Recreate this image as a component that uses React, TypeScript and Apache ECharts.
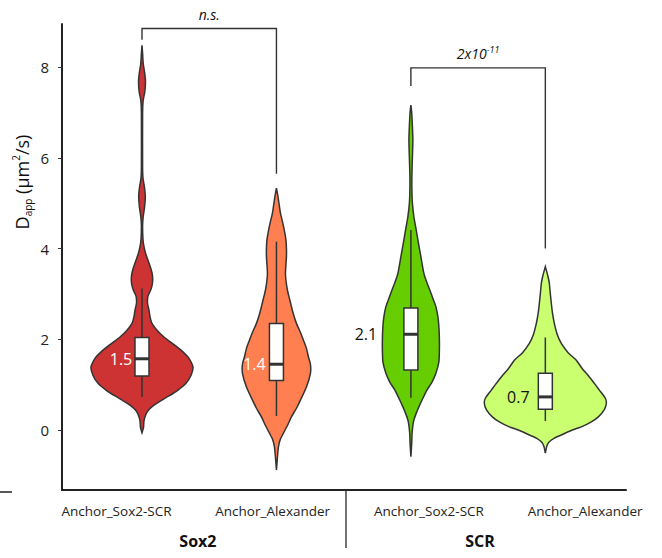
import React, { useEffect, useRef } from "react";
import * as echarts from "echarts";

// ---------- data ----------
const categories = ["Anchor_Sox2-SCR", "Anchor_Alexander", "Anchor_Sox2-SCR", "Anchor_Alexander"];
const groups = ["Sox2", "SCR"];
const yTicks = [0, 2, 4, 6, 8];
const medianLabels = ["1.5", "1.4", "2.1", "0.7"];

// box stats: [whiskerLow, q1, median, q3, whiskerHigh]
const boxSox2Anchor = [0.73, 1.19, 1.57, 2.04, 3.12];
const boxSox2Alexander = [0.31, 1.09, 1.45, 2.35, 4.15];
const boxScrAnchor = [0.71, 1.32, 2.11, 2.69, 4.41];
const boxScrAlexander = [0.2, 0.46, 0.73, 1.25, 2.04];

// violin profiles: [value, density half-width]
const violinSox2Anchor: [number, number][] = [
  [-0.06, 0], [0.05, 1.5], [0.2, 2], [0.35, 4], [0.45, 7], [0.55, 12], [0.65, 19], [0.75, 27],
  [0.88, 36], [1.03, 44], [1.2, 49], [1.39, 51], [1.58, 47], [1.76, 39], [1.9, 31], [2.05, 22],
  [2.2, 15], [2.35, 10], [2.5, 8], [2.64, 7], [2.8, 5.5], [2.95, 6], [3.1, 9], [3.24, 10.5],
  [3.4, 10.5], [3.55, 9], [3.74, 6], [3.9, 3.5], [4.04, 2], [4.2, 1], [4.5, 0.6], [4.7, 1.2],
  [4.9, 2.5], [5.14, 3.3], [5.35, 2.5], [5.55, 1], [5.8, 0.6], [7.0, 0.6], [7.27, 1.2],
  [7.45, 2.8], [7.67, 3.5], [7.85, 2.8], [8.08, 1.2], [8.3, 0.6], [8.48, 0],
];
const violinSox2Alexander: [number, number][] = [
  [-0.88, 0], [-0.6, 1], [-0.37, 2], [-0.2, 4], [-0.07, 7], [0.1, 11], [0.29, 15], [0.48, 20],
  [0.66, 24], [0.95, 30], [1.25, 34], [1.45, 34], [1.61, 32], [1.8, 30], [1.98, 27], [2.15, 24],
  [2.35, 20], [2.55, 17], [2.72, 15], [2.9, 13], [3.08, 11], [3.3, 9.5], [3.46, 9], [3.65, 9.5],
  [3.82, 10], [4.0, 10], [4.19, 9.5], [4.33, 8.5], [4.55, 6.5], [4.78, 4], [5.0, 2.5],
  [5.15, 1.5], [5.33, 0],
];
const violinScrAnchor: [number, number][] = [
  [-0.59, 0], [-0.3, 0.8], [-0.07, 1.2], [0.1, 2], [0.22, 3], [0.35, 5], [0.51, 8], [0.7, 12],
  [0.88, 16], [1.05, 21], [1.25, 25], [1.5, 28], [1.76, 28.5], [2.0, 28.5], [2.28, 28], [2.5, 27],
  [2.72, 25], [2.9, 22], [3.08, 19], [3.25, 16], [3.45, 13], [3.82, 10], [4.19, 7], [4.45, 5],
  [4.7, 3], [5.0, 1.5], [5.3, 1], [5.6, 1], [6.0, 1.5], [6.39, 2], [6.7, 1.5], [7.0, 0.8], [7.16, 0],
];
const violinScrAlexander: [number, number][] = [
  [-0.51, 0], [-0.35, 1.5], [-0.26, 4], [-0.18, 9], [-0.11, 16], [0.0, 27], [0.07, 36], [0.18, 46],
  [0.29, 53], [0.45, 59], [0.59, 61], [0.7, 60], [0.88, 54], [1.0, 50], [1.17, 44], [1.35, 37],
  [1.54, 31], [1.7, 23], [1.91, 16], [2.1, 12], [2.35, 9], [2.6, 7], [2.79, 6], [3.0, 5],
  [3.23, 4], [3.4, 2.5], [3.6, 0],
];

const sigLabels = ["n.s.", "2x10^-11"];
const bracketPairs = [[1, 2], [3, 4]];
const bracketTop = [8.85, 7.98];
const bracketEnds = [[8.6, 5.65], [7.58, 4.0]];

// ---------- styling ----------
const boxes = [boxSox2Anchor, boxSox2Alexander, boxScrAnchor, boxScrAlexander];
const violins = [violinSox2Anchor, violinSox2Alexander, violinScrAnchor, violinScrAlexander];
const fills = ["#CD3333", "#FF7F50", "#66CD00", "#CAFF70"];
const labelColors = ["#ffffff", "#ffffff", "#111111", "#111111"];
const labelDx = [-21, -22, -45, -27];
const FONT = "'Open Sans', 'Noto Sans', sans-serif";
const INK = "#333333";
const REF_PX = 134.45;

export default function App() {
  const ref = useRef<HTMLDivElement>(null);
  useEffect(() => {
    document.body.style.margin = "0";
    const chart = echarts.init(ref.current!, null, { renderer: "svg" });

    const violinRender = (params: any, api: any) => {
      const i = params.dataIndex;
      const cx = i + 1;
      const scale = api.size([1, 0])[0] / REF_PX;
      const left: number[][] = [];
      const right: number[][] = [];
      violins[i].forEach(([v, d]) => {
        const p = api.coord([cx, v]);
        left.push([p[0] - d * scale, p[1]]);
        right.push([p[0] + d * scale, p[1]]);
      });
      const pts = left.concat(right.reverse());
      const b = boxes[i];
      const pLow = api.coord([cx, b[0]]);
      const pQ1 = api.coord([cx, b[1]]);
      const pMed = api.coord([cx, b[2]]);
      const pQ3 = api.coord([cx, b[3]]);
      const pHigh = api.coord([cx, b[4]]);
      const bw = 7;
      return {
        type: "group",
        children: [
          {
            type: "polygon",
            shape: { points: pts, smooth: 0.2 },
            style: { fill: fills[i], stroke: INK, lineWidth: 1.5 },
          },
          {
            type: "line",
            shape: { x1: pLow[0], y1: pLow[1], x2: pHigh[0], y2: pHigh[1] },
            style: { stroke: INK, lineWidth: 1.5 },
          },
          {
            type: "rect",
            shape: { x: pQ3[0] - bw, y: pQ3[1], width: bw * 2, height: pQ1[1] - pQ3[1] },
            style: { fill: "#ffffff", stroke: INK, lineWidth: 1.5 },
          },
          {
            type: "line",
            shape: { x1: pMed[0] - bw, y1: pMed[1], x2: pMed[0] + bw, y2: pMed[1] },
            style: { stroke: INK, lineWidth: 3 },
          },
          {
            type: "text",
            x: pMed[0] + labelDx[i],
            y: pMed[1],
            style: {
              text: medianLabels[i],
              fill: labelColors[i],
              font: `16px ${FONT}`,
              align: "center",
              verticalAlign: "middle",
            },
          },
        ],
      };
    };

    const bracketRender = (params: any, api: any) => {
      const i = params.dataIndex;
      const [a, b] = bracketPairs[i];
      const [e1, e2] = bracketEnds[i];
      const p1 = api.coord([a, e1]);
      const p2 = api.coord([a, bracketTop[i]]);
      const p3 = api.coord([b, bracketTop[i]]);
      const p4 = api.coord([b, e2]);
      const lbl = sigLabels[i];
      const parts = lbl.split("^");
      const text = parts.length > 1 ? `{m|${parts[0]}}{s|${parts[1]}}` : `{m|${parts[0]}}`;
      return {
        type: "group",
        children: [
          {
            type: "polyline",
            shape: { points: [p1, p2, p3, p4] },
            style: { stroke: INK, lineWidth: 1.4, fill: "none" },
          },
          {
            type: "text",
            x: (p2[0] + p3[0]) / 2,
            y: p2[1] - 14,
            style: {
              text,
              align: "center",
              verticalAlign: "middle",
              rich: {
                m: { fontFamily: FONT, fontStyle: "italic", fontSize: 14, fill: "#111", lineHeight: 18 },
                s: {
                  fontFamily: FONT, fontStyle: "italic", fontSize: 9, fill: "#111",
                  lineHeight: 9, verticalAlign: "top",
                },
              },
            },
          },
        ],
      };
    };

    chart.setOption({
      animation: false,
      grid: { left: 62, right: 36, top: 24, bottom: 68 },
      xAxis: [
        {
          type: "value", min: 0.405, max: 4.6, gridIndex: 0,
          axisLine: { show: true, onZero: false, lineStyle: { color: "#222", width: 2 } },
          axisTick: { show: false }, axisLabel: { show: false }, splitLine: { show: false },
        },
        {
          type: "value", min: 0.651, max: 4.262, gridIndex: 0, position: "bottom",
          axisLine: { show: false }, axisTick: { show: false }, splitLine: { show: false },
          axisLabel: {
            customValues: [1, 2, 3, 4],
            formatter: (v: number) => categories[Math.round(v) - 1] ?? "",
            fontFamily: FONT, fontSize: 13.5, color: "#222", margin: 14,
          },
        },
        {
          type: "value", min: 0.518, max: 2.518, gridIndex: 0, position: "bottom",
          axisLine: { show: false }, axisTick: { show: false }, splitLine: { show: false },
          axisLabel: {
            customValues: [1, 2],
            formatter: (v: number) => groups[Math.round(v) - 1] ?? "",
            fontFamily: FONT, fontSize: 16, fontWeight: "bold", color: "#111", margin: 43,
          },
        },
      ],
      yAxis: {
        type: "value", min: -1.322, max: 8.948,
        axisLine: { show: true, onZero: false, lineStyle: { color: "#222", width: 2 } },
        axisTick: { show: true, customValues: yTicks, length: 4, lineStyle: { color: "#333" } },
        axisLabel: { customValues: yTicks, fontFamily: FONT, fontSize: 15, color: "#222", margin: 13 },
        splitLine: { show: false },
      },
      series: [
        {
          type: "custom",
          xAxisIndex: 0, yAxisIndex: 0,
          renderItem: violinRender,
          data: boxes.map((b, i) => [i + 1, b[2]]),
          clip: false,
          z: 2,
        },
        {
          type: "custom",
          xAxisIndex: 0, yAxisIndex: 0,
          renderItem: bracketRender,
          data: bracketPairs.map((p, i) => [p[0], bracketTop[i]]),
          clip: false,
          z: 3,
        },
      ],
      graphic: [
        {
          type: "text",
          x: 22, y: 182, rotation: Math.PI / 2,
          style: {
            text: "{d|D}{b|app}{d| (μm}{p|2}{d|/s)}",
            align: "center", verticalAlign: "middle",
            rich: {
              d: { fontFamily: FONT, fontSize: 18, fill: "#111", lineHeight: 22 },
              b: { fontFamily: FONT, fontSize: 10, fill: "#111", lineHeight: 11, verticalAlign: "bottom" },
              p: { fontFamily: FONT, fontSize: 10, fill: "#111", lineHeight: 11, verticalAlign: "top" },
            },
          },
        },
        {
          type: "line",
          shape: { x1: 346, y1: 490, x2: 346, y2: 548 },
          style: { stroke: "#444", lineWidth: 1.5 },
        },
        {
          type: "line",
          shape: { x1: 0, y1: 492, x2: 12, y2: 492 },
          style: { stroke: "#222", lineWidth: 1.5 },
        },
      ],
    });
    return () => chart.dispose();
  }, []);
  return <div ref={ref} style={{ width: 662, height: 558 }} />;
}
